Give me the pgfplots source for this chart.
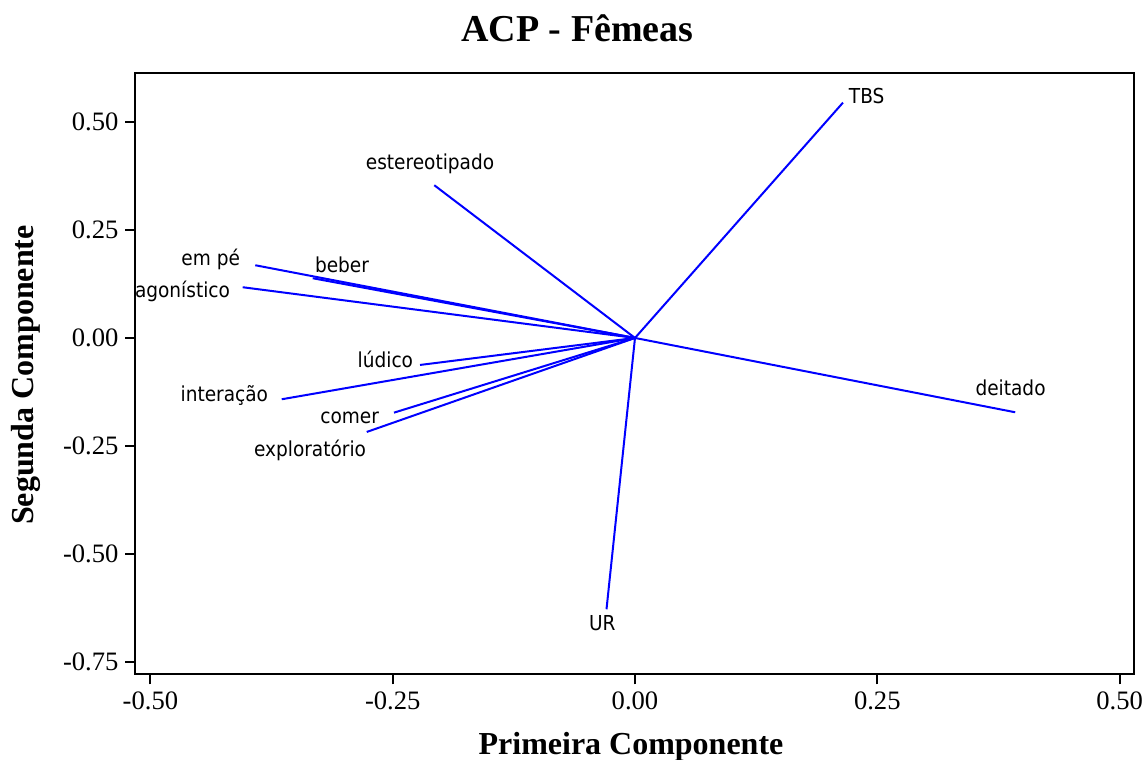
\documentclass[border=0pt]{standalone}
\usepackage{fontspec}
\setmainfont{Liberation Serif}
\newfontfamily\lab{DejaVu Sans Condensed}
\usepackage{pgfplots}
\pgfplotsset{compat=1.18}
\tikzset{lbl/.style={font=\lab\fontsize{10.3}{12}\selectfont, inner sep=0pt, text=black},
  vec/.style={blue, solid, mark=none, line width=1pt}}
\begin{document}
\begin{tikzpicture}
\path[use as bounding box] (-67.75pt,-42.85pt) rectangle (503.25pt,337.15pt);
\begin{axis}[
  scale only axis, width=499.25pt, height=300.8pt,
  xmin=-0.5154, xmax=0.5149, ymin=-0.7785, ymax=0.614,
  xtick={-0.5,-0.25,0,0.25,0.5}, ytick={-0.75,-0.5,-0.25,0,0.25,0.5},
  tick pos=left, tick align=outside, major tick length=5pt,
  axis line style={line width=1pt},
  every tick/.style={black, line width=1pt},
  /pgf/number format/assume math mode=true,
  xticklabel={\pgfmathprintnumber[fixed,fixed zerofill,precision=2]{\tick}},
  yticklabel={\pgfmathprintnumber[fixed,fixed zerofill,precision=2]{\tick}},
  xticklabel style={font=\fontsize{13.3}{13.3}\selectfont},
  yticklabel style={font=\fontsize{13.3}{13.3}\selectfont},
]
\addplot[vec] coordinates {(0,0) (0.2146,0.5447)} node[pos=1, lbl, anchor=base west, xshift=2.5pt, yshift=-0.65pt] {TBS};
\addplot[vec] coordinates {(0,0) (-0.2071,0.3535)} node[pos=1, lbl, anchor=base, xshift=-2.15pt, yshift=7.65pt] {estereotipado};
\addplot[vec] coordinates {(0,0) (-0.3918,0.1683)} node[pos=1, lbl, anchor=base east, xshift=-7.15pt, yshift=-0.35pt] {em pé};
\addplot[vec] coordinates {(0,0) (-0.3325,0.1382)} node[pos=1, lbl, anchor=base west, xshift=0.65pt, yshift=2.8pt] {beber};
\addplot[vec] coordinates {(0,0) (-0.4048,0.1174)} node[pos=1, lbl, anchor=base east, xshift=-5.85pt, yshift=-5.35pt] {agonístico};
\addplot[vec] coordinates {(0,0) (-0.2218,-0.0625)} node[pos=1, lbl, anchor=base east, xshift=-3pt, yshift=-1.5pt] {lúdico};
\addplot[vec] coordinates {(0,0) (-0.3645,-0.1419)} node[pos=1, lbl, anchor=base east, xshift=-6.35pt, yshift=-1.2pt] {interação};
\addplot[vec] coordinates {(0,0) (-0.2487,-0.1729)} node[pos=1, lbl, anchor=base east, xshift=-7pt, yshift=-5.65pt] {comer};
\addplot[vec] coordinates {(0,0) (-0.2768,-0.2176)} node[pos=1, lbl, anchor=base east, xshift=0.15pt, yshift=-12.35pt] {exploratório};
\addplot[vec] coordinates {(0,0) (0.3923,-0.1720)} node[pos=1, lbl, anchor=base east, xshift=15.7pt, yshift=8.15pt] {deitado};
\addplot[vec] coordinates {(0,0) (-0.0294,-0.6280)} node[pos=1, lbl, anchor=base, xshift=-2.1pt, yshift=-10.7pt] {UR};
\end{axis}
\node[anchor=base, inner sep=0pt, font=\bfseries\fontsize{19}{19}\selectfont] at (221pt,316.15pt) {ACP - Fêmeas};
\node[anchor=base, inner sep=0pt, font=\bfseries\fontsize{16}{16}\selectfont] at (247.75pt,-40.35pt) {Primeira Componente};
\node[anchor=base, rotate=90, inner sep=0pt, font=\bfseries\fontsize{16}{16}\selectfont] at (-51.1pt,149.65pt) {Segunda Componente};
\end{tikzpicture}
\end{document}
